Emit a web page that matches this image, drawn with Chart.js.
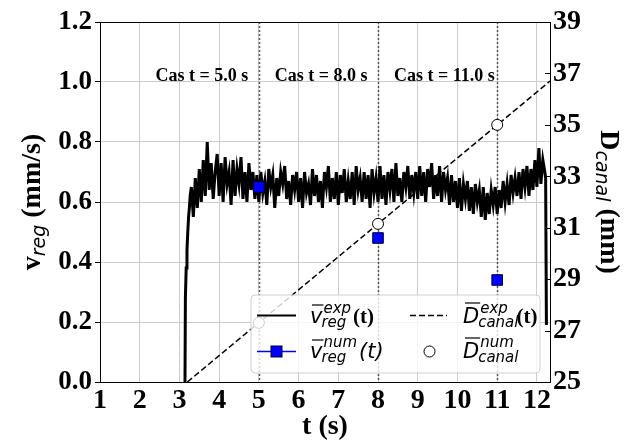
<!DOCTYPE html>
<html><head><meta charset="utf-8">
<script src="https://cdn.jsdelivr.net/npm/chart.js@4"></script>
<style>html,body{margin:0;padding:0;background:#fff;}</style>
</head><body>
<canvas id="c" width="633" height="444"></canvas>
<script>
// ---------- data ----------
const xTicks = [1,2,3,4,5,6,7,8,9,10,11,12];
const vTicks = [0,0.2,0.4,0.6,0.8,1.0,1.2];
const dTicks = [25,27,29,31,33,35,37,39];

const caseT = [5, 8, 11];
const caseLabels = ['Cas t = 5.0 s', 'Cas t = 8.0 s', 'Cas t = 11.0 s'];

const vExpT = [
 3.14,3.15,3.17,3.19,3.21,3.23,3.25,3.27,
 3.30,3.35,3.40,3.45,3.50,3.55,3.60,3.65,3.70,3.75,3.80,3.85,3.90,3.95,
 4.00,4.05,4.10,4.15,4.20,4.25,4.30,4.35,4.40,4.45,4.50,4.55,4.60,4.65,4.70,4.75,4.80,4.85,4.90,4.95,
 5.00,5.05,5.10,5.15,5.20,5.25,5.30,5.35,5.40,5.45,5.50,5.55,5.60,5.65,5.70,5.75,5.80,5.85,5.90,5.95,
 6.00,6.05,6.10,6.15,6.20,6.25,6.30,6.35,6.40,6.45,6.50,6.55,6.60,6.65,6.70,6.75,6.80,6.85,6.90,6.95,
 7.00,7.05,7.10,7.15,7.20,7.25,7.30,7.35,7.40,7.45,7.50,7.55,7.60,7.65,7.70,7.75,7.80,7.85,7.90,7.95,
 8.00,8.05,8.10,8.15,8.20,8.25,8.30,8.35,8.40,8.45,8.50,8.55,8.60,8.65,8.70,8.75,8.80,8.85,8.90,8.95,
 9.00,9.05,9.10,9.15,9.20,9.25,9.30,9.35,9.40,9.45,9.50,9.55,9.60,9.65,9.70,9.75,9.80,9.85,9.90,9.95,
 10.00,10.05,10.10,10.15,10.20,10.25,10.30,10.35,10.40,10.45,10.50,10.55,10.60,10.65,10.70,10.75,10.80,10.85,10.90,10.95,
 11.00,11.05,11.10,11.15,11.20,11.25,11.30,11.35,11.40,11.45,11.50,11.55,11.60,11.65,11.70,11.75,11.80,11.85,11.90,11.95,
 12.00,12.05,12.10,12.15,12.20,12.22,12.24
];
const vExpV = [
 0.00,0.28,0.38,0.44,0.50,0.55,0.58,0.62,
 0.65,0.55,0.68,0.58,0.71,0.60,0.74,0.62,0.80,0.64,0.73,0.61,0.70,0.76,
 0.62,0.73,0.60,0.75,0.66,0.70,0.59,0.74,0.62,0.71,0.66,0.75,0.61,0.70,0.60,0.73,0.64,0.70,0.61,0.69,
 0.60,0.70,0.63,0.67,0.59,0.71,0.65,0.69,0.58,0.68,0.62,0.70,0.66,0.72,0.61,0.67,0.59,0.69,0.64,0.70,
 0.60,0.68,0.58,0.70,0.63,0.66,0.59,0.71,0.62,0.69,0.60,0.67,0.58,0.70,0.65,0.72,0.60,0.68,0.61,0.70,
 0.59,0.69,0.63,0.71,0.60,0.67,0.61,0.70,0.59,0.72,0.64,0.68,0.60,0.70,0.61,0.69,0.58,0.71,0.63,0.68,
 0.60,0.72,0.61,0.69,0.59,0.70,0.64,0.71,0.60,0.73,0.62,0.68,0.60,0.70,0.65,0.72,0.61,0.69,0.63,0.70,
 0.61,0.72,0.62,0.70,0.60,0.71,0.65,0.73,0.61,0.69,0.62,0.72,0.60,0.70,0.64,0.68,0.59,0.69,0.60,0.67,
 0.58,0.68,0.57,0.66,0.61,0.67,0.57,0.65,0.56,0.66,0.60,0.64,0.55,0.65,0.54,0.63,0.56,0.64,0.59,0.65,
 0.56,0.64,0.58,0.67,0.60,0.66,0.59,0.69,0.63,0.68,0.62,0.70,0.61,0.71,0.65,0.72,0.62,0.71,0.64,0.74,
 0.65,0.78,0.66,0.74,0.70,0.68,0.19
];

// experimental canal diameter (straight dashed line)
const dExpT = [3.2, 12.33];
const dExpV = [25, 36.7];

// numerical results at the three cases
const vNumV = [0.65, 0.48, 0.34];
const dNumV = [27.3, 31.15, 35.0];

// ---------- helpers ----------
const SERIF_B = "bold {s}px 'Liberation Serif', 'Times New Roman', serif";
const f = (tpl, s) => tpl.replace('{s}', s);
const SANS_I = (s) => "italic " + s + "px 'DejaVu Sans', sans-serif";

function script(ctx, x, y, base, baseFont, sup, sub, sFont, supDy, subDy, bar) {
  ctx.font = baseFont;
  ctx.fillText(base, x, y);
  const w = ctx.measureText(base).width;
  if (bar) {
    ctx.save(); ctx.lineWidth = 1.2; ctx.strokeStyle = '#000';
    ctx.beginPath(); ctx.moveTo(x + 2, y - bar); ctx.lineTo(x + w + 1, y - bar); ctx.stroke();
    ctx.restore();
  }
  ctx.font = sFont;
  const ws = ctx.measureText(sup).width, wb = ctx.measureText(sub).width;
  ctx.fillText(sup, x + w + 1, y + supDy);
  ctx.fillText(sub, x + w - 1, y + subDy);
  return x + w + Math.max(ws + 1, wb - 1) + 1;
}

const deco = {
  id: 'deco',
  beforeDatasetsDraw(chart) {
    const {ctx, chartArea: a, scales: {x}} = chart;
    ctx.save();
    ctx.strokeStyle = '#555'; ctx.lineWidth = 1.5; ctx.setLineDash([2, 2]);
    caseT.forEach(t => {
      const px = Math.round(x.getPixelForValue(t)) + 0.5;
      ctx.beginPath(); ctx.moveTo(px, a.top); ctx.lineTo(px, a.bottom); ctx.stroke();
    });
    ctx.setLineDash([]);
    ctx.fillStyle = '#000'; ctx.font = f(SERIF_B, 18); ctx.textBaseline = 'alphabetic'; ctx.textAlign = 'left';
    caseT.forEach((t, i) => ctx.fillText(caseLabels[i], x.getPixelForValue(t - 2.6), 81));
    ctx.restore();
  },
  afterDatasetsDraw(chart) {
    const {ctx, chartArea: a, scales: {y2}} = chart;
    ctx.save();
    ctx.strokeStyle = '#000'; ctx.lineWidth = 1;
    ctx.beginPath(); ctx.moveTo(a.left, a.top + 0.5); ctx.lineTo(a.right, a.top + 0.5); ctx.stroke();
    dTicks.forEach(d => {
      const py = Math.round(y2.getPixelForValue(d)) + 0.5;
      ctx.beginPath(); ctx.moveTo(a.right - 5, py); ctx.lineTo(a.right, py); ctx.stroke();
    });
    const L = 251, T = 295, R = 540, B = 373, r = 4;
    ctx.beginPath();
    ctx.moveTo(L + r, T); ctx.lineTo(R - r, T); ctx.quadraticCurveTo(R, T, R, T + r);
    ctx.lineTo(R, B - r); ctx.quadraticCurveTo(R, B, R - r, B);
    ctx.lineTo(L + r, B); ctx.quadraticCurveTo(L, B, L, B - r);
    ctx.lineTo(L, T + r); ctx.quadraticCurveTo(L, T, L + r, T); ctx.closePath();
    ctx.fillStyle = 'rgba(255,255,255,0.8)'; ctx.fill();
    ctx.strokeStyle = '#d0d0d0'; ctx.lineWidth = 1; ctx.stroke();
    ctx.strokeStyle = '#000'; ctx.lineWidth = 2;
    ctx.beginPath(); ctx.moveTo(257, 315.5); ctx.lineTo(296, 315.5); ctx.stroke();
    ctx.lineWidth = 1.5; ctx.setLineDash([6, 3]);
    ctx.beginPath(); ctx.moveTo(410, 315.5); ctx.lineTo(447, 315.5); ctx.stroke();
    ctx.setLineDash([]);
    ctx.strokeStyle = '#0000ff'; ctx.lineWidth = 1.5;
    ctx.beginPath(); ctx.moveTo(257, 351.5); ctx.lineTo(296, 351.5); ctx.stroke();
    ctx.fillStyle = '#0000ff'; ctx.strokeStyle = '#000033'; ctx.lineWidth = 1;
    ctx.fillRect(271, 346, 11, 11); ctx.strokeRect(271, 346, 11, 11);
    ctx.fillStyle = '#fff'; ctx.strokeStyle = '#000';
    ctx.beginPath(); ctx.arc(429.5, 351.5, 5.5, 0, Math.PI * 2); ctx.fill(); ctx.stroke();
    ctx.fillStyle = '#000'; ctx.textBaseline = 'alphabetic'; ctx.textAlign = 'left';
    let nx = script(ctx, 310, 323, 'v', SANS_I(21), 'exp', 'reg', SANS_I(15), -10, 4, 18);
    ctx.font = f(SERIF_B, 21); ctx.fillText('(t)', nx + 1, 323);
    nx = script(ctx, 463, 323, 'D', SANS_I(21), 'exp', 'canal', SANS_I(15), -10, 4, 20);
    ctx.font = f(SERIF_B, 21); ctx.fillText('(t)', nx - 3, 323);
    nx = script(ctx, 310, 358, 'v', SANS_I(21), 'num', 'reg', SANS_I(15), -11, 4, 18);
    ctx.font = SANS_I(21); ctx.fillText('(t)', nx + 1, 358);
    script(ctx, 463, 358, 'D', SANS_I(21), 'num', 'canal', SANS_I(15), -11, 4, 20);
    ctx.restore();
  },
  afterDraw(chart) {
    const {ctx} = chart;
    ctx.save(); ctx.fillStyle = '#000'; ctx.textBaseline = 'alphabetic';
    ctx.font = f(SERIF_B, 28); ctx.textAlign = 'center';
    ctx.fillText('t (s)', 325, 434);
    ctx.textAlign = 'left';
    const partsL = [['v', f(SERIF_B, 28), 0], ['reg', SANS_I(19), 5], [' (mm/s)', f(SERIF_B, 28), 0]];
    const partsR = [['D', f(SERIF_B, 28), 0], ['canal', SANS_I(19), 5], [' (mm)', f(SERIF_B, 28), 0]];
    const widthOf = parts => parts.reduce((s, p) => { ctx.font = p[1]; return s + ctx.measureText(p[0]).width; }, 0);
    const drawParts = (parts, cx, cy, ang, base) => {
      ctx.save(); ctx.translate(cx, cy); ctx.rotate(ang);
      let px = -widthOf(parts) / 2;
      parts.forEach(p => { ctx.font = p[1]; ctx.fillText(p[0], px, base + p[2]); px += ctx.measureText(p[0]).width; });
      ctx.restore();
    };
    drawParts(partsL, 31, 202, -Math.PI / 2, 9);
    drawParts(partsR, 610, 202, Math.PI / 2, 9);
    ctx.restore();
  }
};

const tickFont = (s) => ({family: "'Liberation Serif', 'Times New Roman', serif", weight: 'bold', size: s});

new Chart(document.getElementById('c'), {
  type: 'line',
  data: {
    datasets: [
      { label: 'v_num', data: caseT.map((t, i) => ({x: t, y: vNumV[i]})), yAxisID: 'y', showLine: false,
        pointStyle: 'rect', pointRadius: 7.5, backgroundColor: '#0000ff', borderColor: '#000033', borderWidth: 1, order: 0 },
      { label: 'D_num', data: caseT.map((t, i) => ({x: t, y: dNumV[i]})), yAxisID: 'y2', showLine: false,
        pointStyle: 'circle', pointRadius: 5.5, backgroundColor: '#ffffff', borderColor: '#000', borderWidth: 1, order: 1 },
      { label: 'D_exp', data: dExpT.map((t, i) => ({x: t, y: dExpV[i]})), yAxisID: 'y2',
        borderColor: '#000', borderWidth: 1.5, borderDash: [6, 3], pointRadius: 0, fill: false, order: 2 },
      { label: 'v_exp', data: vExpT.map((t, i) => ({x: t, y: vExpV[i]})), yAxisID: 'y',
        borderColor: '#000', borderWidth: 3, pointRadius: 0, fill: false, tension: 0, order: 3 }
    ]
  },
  options: {
    responsive: false, animation: false, devicePixelRatio: 1,
    layout: {padding: {top: 22, left: 0, right: 0, bottom: 0}},
    plugins: {legend: {display: false}, tooltip: {enabled: false}},
    scales: {
      x: {
        type: 'linear', min: 1, max: 12.33,
        afterBuildTicks: s => { s.ticks = xTicks.map(v => ({value: v})); },
        afterFit: s => { s.height = 62; },
        grid: {color: '#cccccc', lineWidth: 1, drawTicks: false},
        border: {color: '#000', width: 1},
        ticks: {font: tickFont(28), color: '#000', padding: 2, maxRotation: 0, autoSkip: false, callback: v => String(v)}
      },
      y: {
        position: 'left', min: 0, max: 1.2,
        afterBuildTicks: s => { s.ticks = vTicks.map(v => ({value: v})); },
        afterFit: s => { s.width = 100; },
        grid: {color: '#cccccc', lineWidth: 1, tickColor: '#000', tickLength: 5},
        border: {color: '#000', width: 1},
        ticks: {font: tickFont(27), color: '#000', padding: 3, callback: v => Number(v).toFixed(1)}
      },
      y2: {
        position: 'right', min: 25, max: 39,
        afterBuildTicks: s => { s.ticks = dTicks.map(v => ({value: v})); },
        afterFit: s => { s.width = 83; },
        grid: {drawOnChartArea: false, drawTicks: false},
        border: {color: '#000', width: 1},
        ticks: {font: tickFont(28), color: '#000', padding: 3, callback: v => String(v)}
      }
    }
  },
  plugins: [deco]
});
</script>
</body></html>
